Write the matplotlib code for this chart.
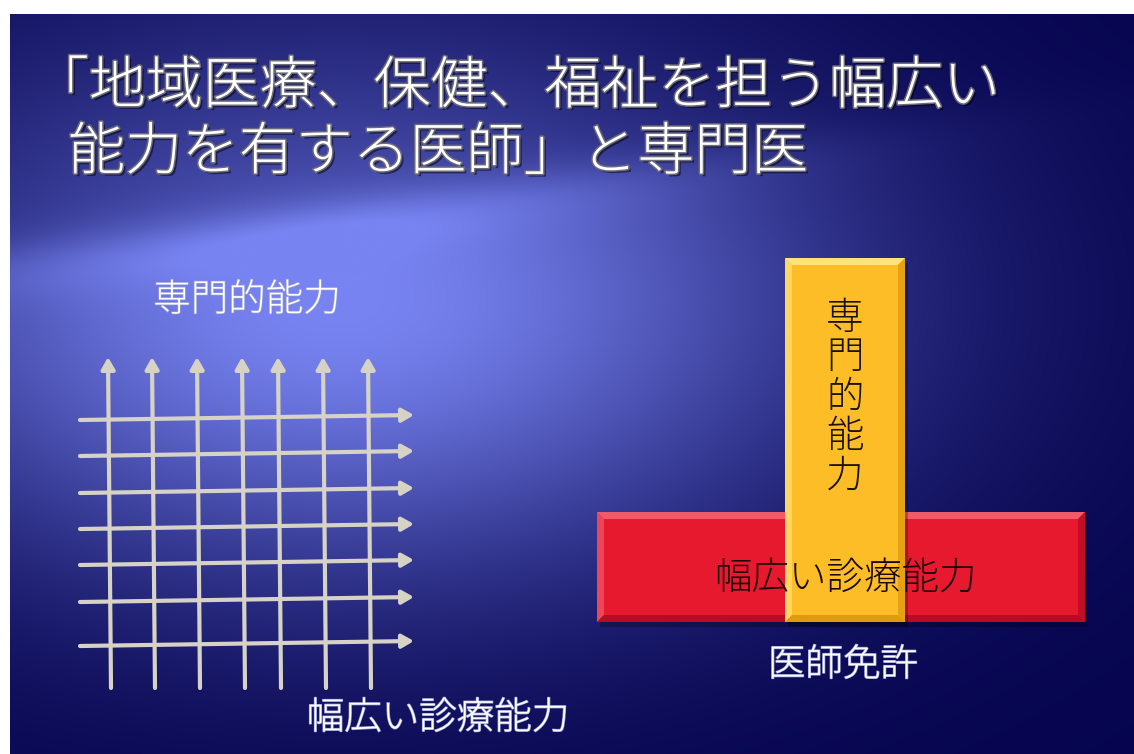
import numpy as np
import matplotlib
matplotlib.use("Agg")
import matplotlib.pyplot as plt
import matplotlib.patheffects as pe
from matplotlib.patches import Polygon, Rectangle, FancyArrowPatch

plt.rcParams["font.family"] = ["Noto Sans CJK JP", "DejaVu Sans"]

W, H = 1134, 754

# text content
title_lines = ["「地域医療、保健、福祉を担う幅広い", "能力を有する医師」と専門医"]
left_top_label = "専門的能力"
left_bottom_label = "幅広い診療能力"
bar_vertical_label = "専門的能力"
bar_horizontal_label = "幅広い診療能力"
base_label = "医師免許"

# grid layout (pixels)
grid_cols_x = [108, 152, 197, 242, 278, 323, 368]
grid_rows_y = [419, 455, 492, 528, 564, 601, 645]
grid_top, grid_bottom = 357, 688
grid_left, grid_right = 80, 414

# bars (pixels): x0, y0, x1, y1
red_bar = (597, 512, 1085, 622)
gold_bar = (785, 258, 905, 622)


def background():
    Y, X = np.mgrid[0:H, 0:W].astype(float)
    glow = np.exp(-(((X - 330) / 560) ** 2 + ((Y - 290) / 320) ** 2))
    # swoosh curve under the title
    yc = 245 - 0.13 * X - 0.00002 * X ** 2
    above = 1 / (1 + np.exp(-(yc - Y) / 12))
    glow = glow * (1 - 0.28 * above)
    band = np.exp(-((Y - yc - 15) / 35) ** 2) * np.exp(-((X - 250) / 500) ** 2)
    glow = np.clip(glow + 0.12 * band, 0, 1)
    dark = np.array([6, 4, 78]) / 255
    bright = np.array([120, 132, 242]) / 255
    img = dark + (bright - dark) * glow[..., None] ** 1.25
    return np.clip(img, 0, 1)


def bevel_box(ax, box, base, light, shade, bev, z):
    x0, y0, x1, y1 = box
    ax.add_patch(Rectangle((x0 + 3, y0 + 5), x1 - x0, y1 - y0,
                           fc="black", alpha=0.25, lw=0, zorder=z - 0.5))
    ax.add_patch(Rectangle((x0, y0), x1 - x0, y1 - y0, fc=base, lw=0, zorder=z))
    ax.add_patch(Polygon([(x0, y0), (x1, y0), (x1 - bev, y0 + bev), (x0 + bev, y0 + bev)],
                         fc=light, lw=0, zorder=z))
    ax.add_patch(Polygon([(x0, y0), (x0 + bev, y0 + bev), (x0 + bev, y1 - bev), (x0, y1)],
                         fc=light, lw=0, alpha=0.7, zorder=z))
    ax.add_patch(Polygon([(x0, y1), (x0 + bev, y1 - bev), (x1 - bev, y1 - bev), (x1, y1)],
                         fc=shade, lw=0, zorder=z))
    ax.add_patch(Polygon([(x1, y0), (x1 - bev, y0 + bev), (x1 - bev, y1 - bev), (x1, y1)],
                         fc=shade, lw=0, alpha=0.8, zorder=z))


fig = plt.figure(figsize=(W / 100, H / 100), dpi=100, facecolor="white")
ax = fig.add_axes([0, 0, 1, 1])
ax.set_xlim(0, W)
ax.set_ylim(H, 0)
ax.axis("off")

ax.imshow(background(), extent=[10, W, H, 14], aspect="auto", zorder=0)

title_fx = [pe.SimplePatchShadow(offset=(2, -2), shadow_rgbFace="black", alpha=0.5),
            pe.withStroke(linewidth=2.2, foreground="#6a6a7a")]
ax.text(32, 87, title_lines[0], fontsize=41, color="white", va="center", ha="left",
        fontweight="light", path_effects=title_fx, zorder=5)
ax.text(68, 153, title_lines[1], fontsize=41, color="white", va="center", ha="left",
        fontweight="light", path_effects=title_fx, zorder=5)

label_fx = [pe.withStroke(linewidth=1.0, foreground="#9aa0d0")]
ax.text(247, 300, left_top_label, fontsize=27, color="white", ha="center", va="center",
        fontweight="light", path_effects=label_fx, zorder=5)
ax.text(438, 718, left_bottom_label, fontsize=27, color="white", ha="center", va="center",
        fontweight="light", path_effects=label_fx, zorder=5)
ax.text(843, 665, base_label, fontsize=27, color="white", ha="center", va="center",
        fontweight="light", path_effects=label_fx, zorder=5)

# grid of arrows
line_col = "#d6d2c6"
for i, x in enumerate(grid_cols_x):
    arr = FancyArrowPatch((x + 3, grid_bottom), (x, grid_top),
                          arrowstyle="-|>,head_length=7,head_width=4",
                          color=line_col, lw=3.0, shrinkA=0, shrinkB=0, zorder=3)
    ax.add_patch(arr)
for j, y in enumerate(grid_rows_y):
    arr = FancyArrowPatch((grid_left, y + 1), (grid_right, y - 4),
                          arrowstyle="-|>,head_length=7,head_width=4",
                          color=line_col, lw=3.0, shrinkA=0, shrinkB=0, zorder=3)
    ax.add_patch(arr)

# bars
bevel_box(ax, red_bar, "#e6192f", "#f25a6a", "#b80c22", 7, 3)
bevel_box(ax, gold_bar, "#fcbd26", "#ffe27a", "#e19a10", 7, 4)

ax.text(845, 578, bar_horizontal_label, fontsize=27, color="#1a0808",
        ha="center", va="center", fontweight="light", zorder=6)
ys = np.linspace(318, 476, len(bar_vertical_label))
for ch, y in zip(bar_vertical_label, ys):
    ax.text(845, y, ch, fontsize=27, color="#1a1208", ha="center", va="center",
            fontweight="light", zorder=6)

fig.savefig("out.png", dpi=100, facecolor="white")
